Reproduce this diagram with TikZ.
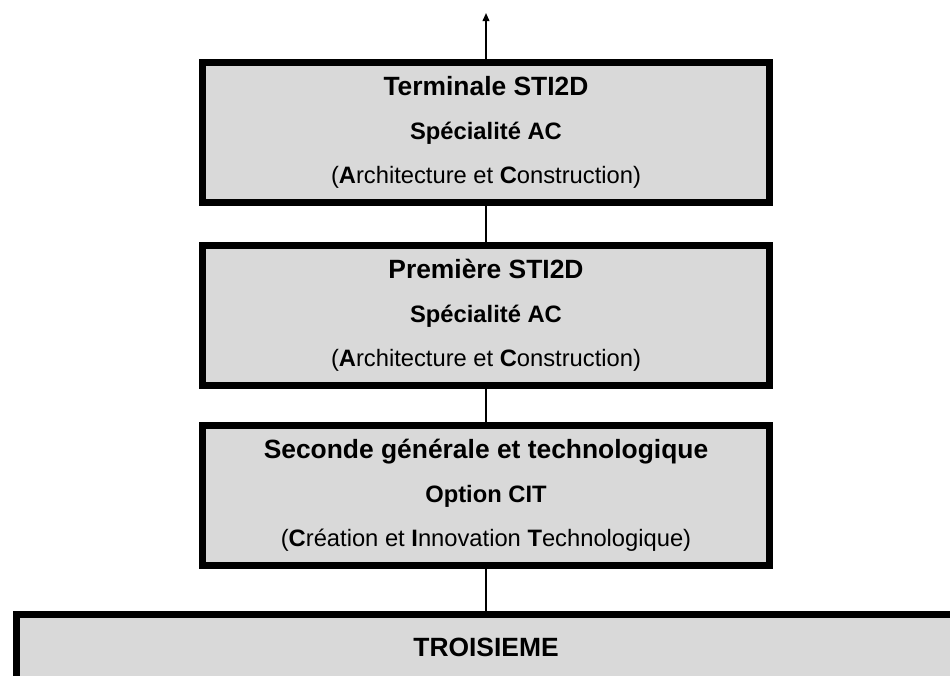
\documentclass[tikz,border=0pt]{standalone}
\usepackage{fontspec}
\setmainfont{Liberation Sans}
\usetikzlibrary{arrows.meta, positioning}
\tikzset{
  niveau/.style={
    rectangle, draw=black, line width=5.25pt, fill=black!15,
    minimum width=425pt, minimum height=105pt, inner sep=0pt,
    align=center, font=\fontsize{17.8}{33}\selectfont
  },
  lien/.style={
    line width=1.2pt, color=black
  }
}
\newcommand{\titre}[1]{{\fontsize{19.8}{33}\selectfont\bfseries #1}}
\newcommand{\sous}[1]{{\bfseries #1}}

\begin{document}
\begin{tikzpicture}[x=0.75pt, y=-0.75pt]
\useasboundingbox (0,0) rectangle (950,675);
\node[niveau] (terminale) at (486,132.5) {\titre{Terminale STI2D}\\ \sous{Spécialité AC}\\ (\textbf{A}rchitecture et \textbf{C}onstruction)};
\node[niveau, below=27pt of terminale] (premiere) {\titre{Première STI2D}\\ \sous{Spécialité AC}\\ (\textbf{A}rchitecture et \textbf{C}onstruction)};
\node[niveau, below=24.75pt of premiere] (seconde) {\titre{Seconde générale et technologique}\\ \sous{Option CIT}\\ (\textbf{C}réation et \textbf{I}nnovation \textbf{T}echnologique)};
\node[niveau, below=31.5pt of seconde, minimum width=704pt, minimum height=50pt] (troisieme) {\titre{TROISIEME}};
\coordinate (suite) at (486,13);
% liaisons entre les niveaux
\draw[lien] (troisieme) -- (seconde);
\draw[lien] (seconde) -- (premiere);
\draw[lien] (premiere) -- (terminale);
\draw[lien, -{Triangle[length=6pt, width=5pt]}] (terminale) -- (suite);
\end{tikzpicture}
\end{document}
